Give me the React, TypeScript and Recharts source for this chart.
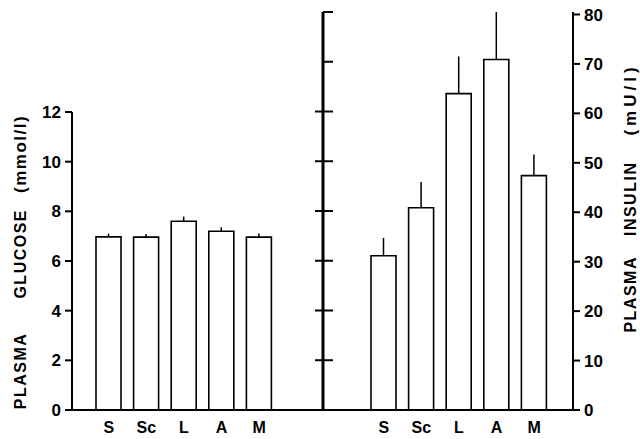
import React from 'react';
import { BarChart, ComposedChart, Bar, Line, XAxis, YAxis, ErrorBar, Label } from 'recharts';

const groups = ['S', 'Sc', 'L', 'A', 'M'];
const glucose = [6.97, 6.96, 7.6, 7.2, 6.96];
const glucoseErr = [0.13, 0.13, 0.19, 0.16, 0.15];
const insulin = [31.2, 40.9, 64.0, 70.9, 47.4];
const insulinErr = [3.6, 5.2, 7.5, 9.6, 4.3];
const glucoseTicks = [0, 2, 4, 6, 8, 10, 12];
const insulinTicks = [0, 10, 20, 30, 40, 50, 60, 70, 80];

const glucoseData = groups.map((g, i) => ({ name: g, value: glucose[i], err: [0, glucoseErr[i]] }));
const insulinData = groups.map((g, i) => ({ name: g, value: insulin[i], err: [0, insulinErr[i]] }));

const FONT = '"Liberation Sans", Arial, Helvetica, sans-serif';
const tickStyle = { fontFamily: FONT, fontWeight: 700, fontSize: 17, fill: '#000' };
const catStyle = { fontFamily: FONT, fontWeight: 700, fontSize: 16, fill: '#000' };

// ticks on the middle axis have no labels and cross the line
const renderMidTick = (props: any) => {
  const { x, y, payload } = props;
  if (payload.value === 0) return <g key={`t-${payload.value}`} />;
  return (
    <line
      key={`t-${payload.value}`}
      x1={payload.value >= 70 ? x : x - 8}
      x2={x + 10}
      y1={y}
      y2={y}
      stroke="#000"
      strokeWidth={2}
    />
  );
};

type Word = { text: string; size: number; spacing: number; gap: number };

const AxisTitle = ({ cx, cy, words }: { cx: number; cy: number; words: Word[] }) => (
  <text
    transform={`translate(${cx},${cy}) rotate(-90)`}
    textAnchor="middle"
    dominantBaseline="central"
    style={{ fontFamily: FONT, fill: '#000', fontWeight: 700 }}
  >
    {words.map((w, i) => (
      <tspan key={i} dx={w.gap} fontSize={w.size} letterSpacing={w.spacing}>
        {w.text}
      </tspan>
    ))}
  </text>
);

const glucoseTitle: Word[] = [
  { text: 'PLASMA', size: 16, spacing: 1.5, gap: 0 },
  { text: 'GLUCOSE', size: 16, spacing: 1.5, gap: 34 },
  { text: '(mmol/l)', size: 17, spacing: 1.5, gap: 16 },
];
const insulinTitle: Word[] = [
  { text: 'PLASMA', size: 16, spacing: 1.5, gap: 0 },
  { text: 'INSULIN', size: 16, spacing: 1.5, gap: 20 },
  { text: '(mU/l)', size: 17, spacing: 4, gap: 26 },
];

const App = () => {
  return (
    <div style={{ position: 'absolute', left: 0, top: 0, width: 640, height: 439, background: '#fff' }}>
      <div style={{ position: 'absolute', left: 0, top: 0 }}>
        <BarChart width={323} height={439} data={glucoseData} margin={{ top: 112, right: 0, bottom: 0, left: 0 }}>
          <XAxis
            dataKey="name"
            height={29}
            padding={{ left: 18, right: 45 }}
            tickLine={false}
            axisLine={{ stroke: '#000', strokeWidth: 2 }}
            tick={catStyle}
            tickMargin={6}
          />
          <YAxis
            width={72}
            domain={[0, 12]}
            ticks={glucoseTicks}
            interval={0}
            tickSize={7}
            tickMargin={4}
            tickLine={{ stroke: '#000', strokeWidth: 2 }}
            axisLine={{ stroke: '#000', strokeWidth: 2 }}
            tick={tickStyle}
          >
            <Label content={() => <AxisTitle cx={20} cy={262} words={glucoseTitle} />} />
          </YAxis>
          <Bar dataKey="value" barSize={25} fill="#fff" stroke="#000" strokeWidth={1.6} isAnimationActive={false}>
            <ErrorBar dataKey="err" width={0} stroke="#000" strokeWidth={1.5} direction="y" />
          </Bar>
        </BarChart>
      </div>
      <div style={{ position: 'absolute', left: 300, top: 0 }}>
        <ComposedChart width={340} height={439} data={insulinData} margin={{ top: 12, right: 0, bottom: 0, left: 0 }}>
          <XAxis
            dataKey="name"
            height={29}
            padding={{ left: 42, right: 20 }}
            tickLine={false}
            axisLine={{ stroke: '#000', strokeWidth: 2 }}
            tick={catStyle}
            tickMargin={6}
          />
          <YAxis
            yAxisId="mid"
            orientation="left"
            width={23}
            domain={[0, 80]}
            ticks={insulinTicks}
            interval={0}
            tickSize={0}
            tickMargin={0}
            tickLine={false}
            axisLine={{ stroke: '#000', strokeWidth: 3 }}
            tick={renderMidTick}
          />
          <YAxis
            yAxisId="right"
            orientation="right"
            width={67}
            domain={[0, 80]}
            ticks={insulinTicks}
            interval={0}
            tickSize={7}
            tickMargin={4}
            tickLine={{ stroke: '#000', strokeWidth: 2 }}
            axisLine={{ stroke: '#000', strokeWidth: 2 }}
            tick={tickStyle}
          >
            <Label content={() => <AxisTitle cx={330} cy={198} words={insulinTitle} />} />
          </YAxis>
          <Bar yAxisId="right" dataKey="value" barSize={25} fill="#fff" stroke="#000" strokeWidth={1.6} isAnimationActive={false}>
            <ErrorBar dataKey="err" width={0} stroke="#000" strokeWidth={1.5} direction="y" />
          </Bar>
          {/* invisible series so the middle axis gets a scale */}
          <Line yAxisId="mid" dataKey="value" stroke="none" dot={false} activeDot={false} isAnimationActive={false} />
        </ComposedChart>
      </div>
    </div>
  );
};

export default App;
